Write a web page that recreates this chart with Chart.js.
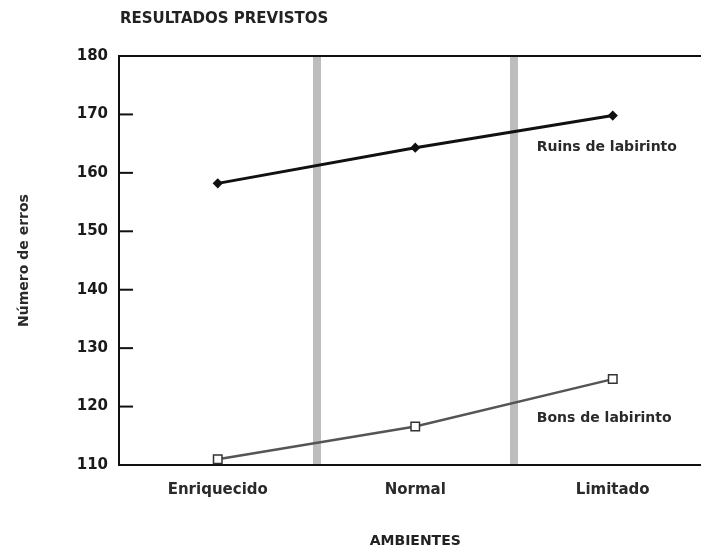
<!DOCTYPE html>
<html>
<head>
<meta charset="utf-8">
<script src="https://cdn.jsdelivr.net/npm/chart.js@4"></script>
<style>
  html, body { margin: 0; padding: 0; background: #fff; overflow: hidden; }
  #wrap { width: 719px; height: 552px; }
</style>
</head>
<body>
<div id="wrap"><canvas id="chart" width="719" height="552"></canvas></div>
<script>
// valores
const ambientes = ['Enriquecido', 'Normal', 'Limitado'];
const ruins = [158.2, 164.3, 169.8];
const bons = [111.0, 116.6, 124.7];
const yTicks = [110, 120, 130, 140, 150, 160, 170, 180];
const seriesNames = ['Ruins de labirinto', 'Bons de labirinto'];

const FONT = '"DejaVu Sans", sans-serif';

// title, top border, inner tick marks and series labels
const extras = {
    id: 'extras',
    afterDraw(chart) {
        const { ctx, chartArea, scales } = chart;
        const x = scales.x, y = scales.y;
        ctx.save();

        ctx.strokeStyle = '#111';
        ctx.lineWidth = 2;
        ctx.beginPath();
        ctx.moveTo(chartArea.left - 1, chartArea.top);
        ctx.lineTo(chartArea.right, chartArea.top);
        ctx.stroke();

        // short tick marks drawn inward
        y.ticks.forEach(t => {
            if (t.value === y.min || t.value === y.max) return;
            const py = y.getPixelForValue(t.value);
            ctx.beginPath();
            ctx.moveTo(chartArea.left, py);
            ctx.lineTo(chartArea.left + 14, py);
            ctx.stroke();
        });

        ctx.fillStyle = '#222';
        ctx.font = 'bold 15px ' + FONT;
        ctx.textBaseline = 'middle';
        ctx.textAlign = 'left';
        ctx.fillText('RESULTADOS PREVISTOS', chartArea.left + 1, 19);

        ctx.font = 'bold 14px ' + FONT;
        ctx.fillStyle = '#2a2a2a';
        const lx = x.getPixelForValue(2) - 76;
        ctx.fillText(seriesNames[0], lx, y.getPixelForValue(164.3));
        ctx.fillText(seriesNames[1], lx, y.getPixelForValue(118.0));
        ctx.restore();
    }
};

new Chart(document.getElementById('chart'), {
    type: 'line',
    data: {
        labels: ambientes,
        datasets: [
            {
                label: seriesNames[0],
                data: ruins,
                borderColor: '#111',
                borderWidth: 3,
                pointStyle: 'rectRot',
                pointRadius: 3,
                pointBackgroundColor: '#111',
                pointBorderColor: '#111',
                tension: 0
            },
            {
                label: seriesNames[1],
                data: bons,
                borderColor: '#555',
                borderWidth: 2.5,
                pointStyle: 'rect',
                pointRadius: 6,
                pointBackgroundColor: '#fff',
                pointBorderColor: '#333',
                pointBorderWidth: 1.5,
                tension: 0
            }
        ]
    },
    options: {
        responsive: false,
        animation: false,
        layout: { padding: { top: 56, right: 0, left: 0, bottom: 0 } },
        plugins: {
            legend: { display: false },
            tooltip: { enabled: false }
        },
        scales: {
            x: {
                offset: true,
                grid: {
                    offset: true,
                    drawTicks: false,
                    lineWidth: 8,
                    color: (c) => (c.index === 1 || c.index === 2) ? '#bdbdbd' : 'rgba(0,0,0,0)'
                },
                border: { color: '#111', width: 2 },
                ticks: {
                    padding: 16,
                    color: '#2a2a2a',
                    font: { family: FONT, size: 15, weight: 'bold' }
                },
                title: {
                    display: true,
                    text: 'AMBIENTES',
                    color: '#222',
                    font: { family: FONT, size: 14, weight: 'bold' },
                    padding: { top: 0, bottom: 2 }
                },
                afterFit(scale) { scale.height = 87; }
            },
            y: {
                min: yTicks[0],
                max: yTicks[yTicks.length - 1],
                afterBuildTicks(scale) { scale.ticks = yTicks.map(v => ({ value: v })); },
                grid: { display: false, drawTicks: false },
                border: { color: '#111', width: 2 },
                ticks: {
                    padding: 11,
                    color: '#1a1a1a',
                    font: { family: FONT, size: 15, weight: 'bold' }
                },
                title: {
                    display: true,
                    text: 'Número de erros',
                    color: '#2a2a2a',
                    font: { family: FONT, size: 14, weight: 'bold' },
                    padding: { top: 16, bottom: 0 }
                },
                afterFit(scale) { scale.width = 119; }
            }
        }
    },
    plugins: [extras]
});
</script>
</body>
</html>
